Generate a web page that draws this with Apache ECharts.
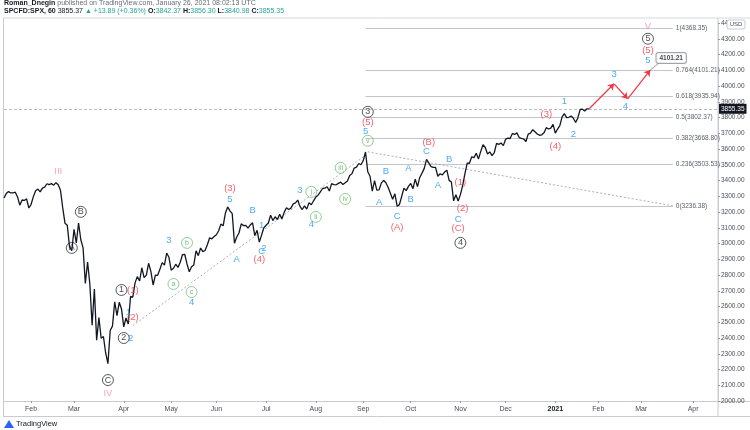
<!DOCTYPE html>
<html><head><meta charset="utf-8">
<script src="https://cdn.jsdelivr.net/npm/echarts@6/dist/echarts.min.js"></script>
<style>html,body{margin:0;padding:0;background:#fff}#c{width:750px;height:430px}</style>
</head><body><div id="c"></div>
<script>
// ---- calendar (trading days) ----
const holidays = ['2020-01-20','2020-02-17','2020-04-10','2020-05-25','2020-07-03','2020-09-07','2020-11-26','2020-12-25','2021-01-01','2021-01-18','2021-02-15','2021-04-02'];
const monthNames = ['Jan','Feb','Mar','Apr','May','Jun','Jul','Aug','Sep','Oct','Nov','Dec'];

// ---- daily closes (SPX, from 2020-01-15) ----
const close2020Jan = [3289.29,3316.81,3329.62,3320.79,3321.75,3325.54,3295.47,3243.63,3276.24,3273.40,3283.66,3225.52];
const close2020Feb = [3248.92,3297.59,3334.69,3345.78,3327.71,3352.09,3357.75,3379.45,3373.94,3380.16,3370.29,3386.15,3373.23,3337.75,3225.89,3128.21,3116.39,2978.76,2954.22];
const close2020Mar = [3090.23,3003.37,3130.12,3023.94,2972.37,2746.56,2882.23,2741.38,2480.64,2711.02,2386.13,2529.19,2398.10,2409.39,2304.92,2237.40,2447.33,2475.56,2630.07,2541.47,2626.65,2584.59];
const close2020Apr = [2470.50,2526.90,2488.65,2663.68,2659.41,2749.98,2789.82,2761.63,2846.06,2783.36,2799.55,2874.56,2823.16,2736.56,2799.31,2797.80,2836.74,2878.48,2863.39,2939.51,2912.43];
const close2020May = [2830.71,2842.74,2868.44,2848.42,2881.19,2929.80,2930.32,2870.12,2820.00,2852.50,2863.70,2953.91,2922.94,2971.61,2948.51,2955.45,2991.77,3036.13,3029.73,3044.31];
const close2020Jun = [3055.73,3080.82,3122.87,3112.35,3193.93,3232.39,3207.18,3190.14,3002.10,3041.31,3066.59,3124.74,3113.49,3115.34,3097.74,3117.86,3131.29,3050.33,3083.76,3009.05,3053.24,3100.29];
const close2020Jul = [3115.86,3130.01,3179.72,3145.32,3169.94,3152.05,3185.04,3155.22,3197.52,3226.56,3215.57,3224.73,3251.84,3257.30,3276.02,3235.66,3215.63,3239.41,3218.44,3258.44,3246.22,3271.12];
const close2020Aug = [3294.61,3306.51,3327.77,3349.16,3351.28,3360.47,3333.69,3380.35,3373.43,3372.85,3381.99,3389.78,3374.85,3385.51,3397.16,3431.28,3443.62,3478.73,3484.55,3508.01,3500.31];
const close2020Sep = [3526.65,3580.84,3455.06,3426.96,3331.84,3398.96,3339.19,3340.97,3383.54,3401.20,3385.49,3357.01,3319.47,3281.06,3315.57,3236.92,3246.59,3298.46,3351.60,3335.47,3363.00];
const close2020Oct = [3380.80,3348.42,3408.60,3360.97,3419.44,3446.83,3477.14,3534.22,3511.93,3488.67,3483.34,3483.81,3426.92,3443.12,3435.56,3453.49,3465.39,3400.97,3390.68,3271.03,3310.11,3269.96];
const close2020Nov = [3310.24,3369.16,3443.44,3510.45,3509.44,3550.50,3545.53,3572.66,3537.01,3585.15,3626.91,3609.53,3567.79,3581.87,3557.54,3577.59,3635.41,3629.65,3638.35,3621.63];
const close2020Dec = [3662.45,3669.01,3666.72,3699.12,3691.96,3702.25,3672.82,3668.10,3663.46,3647.49,3694.62,3701.17,3722.48,3709.41,3694.92,3687.26,3690.01,3703.06,3735.36,3727.04,3732.04,3756.07];
const close2021Jan = [3700.65,3726.86,3748.14,3803.79,3824.68,3799.61,3801.19,3809.84,3795.54,3768.25,3798.91,3851.85,3853.07,3841.47,3855.36,3855.35];

const lastPrice = 3855.35;

// ---- Fibonacci levels ----
const fibRatios = ['1','0.764','0.618','0.5','0.382','0.236','0'];
const fibPrices = [4368.35,4101.21,3935.94,3802.37,3668.80,3503.53,3236.38];
const fibFrom = 160, fibTo = 296; // trading-day index

// ---- trend lines [index, price] ----
const trendLines = [
  [[57,2478],[160,3560]],
  [[161,3582],[296,3239]]
];
// ---- projected path ----
const projection = [[259,3855.35],[270,4014],[276,3919],[286,4101.21]];
const targetPrice = 4101.21;

// ---- wave labels [index, price, text, kind] ----
const waveLabels = [
  [24,3455,'III','p'],[46,2050,'IV','p'],[285,4376,'V','p'],
  [34,3201,'B','k'],[30,2972,'A','k'],[46,2133,'C','k'],[52,2705,'1','k'],[53,2400,'2','k'],
  [161,3836,'3','k'],[202,3004,'4','k'],[285,4300,'5','k'],
  [57,2705,'(1)','r'],[57,2534,'(2)','r'],[100,3347,'(3)','r'],[113,2902,'(4)','r'],[161,3772,'(5)','r'],
  [174,3105,'(A)','r'],[188,3639,'(B)','r'],[202,3391,'(1)','r'],[203,3226,'(2)','r'],[201,3093,'(C)','r'],
  [240,3817,'(3)','r'],[244,3614,'(4)','r'],[285,4224,'(5)','r'],
  [55,2565,'1','b'],[56,2400,'2','b'],[73,3023,'3','b'],[83,2629,'4','b'],[100,3283,'5','b'],
  [103,2902,'A','b'],[110,3213,'B','b'],[114,3112,'1','b'],[114,2947,'C','b'],[115,2966,'2','b'],
  [131,3340,'3','b'],[136,3124,'4','b'],[160,3709,'5','b'],
  [166,3258,'A','b'],[169,3461,'B','b'],[174,3175,'C','b'],[179,3474,'A','b'],[180,3283,'B','b'],
  [187,3588,'C','b'],[192,3366,'A','b'],[197,3531,'B','b'],[201,3156,'C','b'],
  [248,3900,'1','b'],[252,3690,'2','b'],[270,4071,'3','b'],[275,3868,'4','b'],[285,4160,'5','b'],
  [75,2743,'a','g'],[81,3004,'b','g'],[83,2692,'c','g'],[136,3328,'i','g'],[138,3169,'ii','g'],
  [149,3480,'iii','g'],[151,3283,'iv','g'],[161,3652,'v','g']
];

// ---- build ----
const cats = [];
for (let t = Date.UTC(2020,0,15); t <= Date.UTC(2021,3,19); t += 864e5) {
  const d = new Date(t), wd = d.getUTCDay(), s = d.toISOString().slice(0,10);
  if (wd === 0 || wd === 6 || holidays.includes(s)) continue;
  cats.push(s);
}
const closes = [].concat(close2020Jan,close2020Feb,close2020Mar,close2020Apr,close2020May,close2020Jun,
  close2020Jul,close2020Aug,close2020Sep,close2020Oct,close2020Nov,close2020Dec,close2021Jan);

const isMonthStart = (i) => i > 0 && cats[i].slice(5,7) !== cats[i-1].slice(5,7);

const FONT = 'Liberation Sans';
const markLines = [];
fibPrices.forEach((p,i) => {
  markLines.push([
    {coord:[fibFrom,p], lineStyle:{color:'#c3c5cc',width:1,type:'solid'},
     label:{show:true,position:'end',distance:3,formatter:fibRatios[i]+'('+p.toFixed(2)+')',color:'#5d606b',fontSize:6.5,fontFamily:FONT}},
    {coord:[fibTo,p]}
  ]);
});
trendLines.forEach(l => {
  markLines.push([
    {coord:l[0], lineStyle:{color:'#9a9a9a',width:0.8,type:[2,2]}, label:{show:false}},
    {coord:l[1]}
  ]);
});
markLines.push({yAxis:lastPrice, lineStyle:{color:'#b9bbc2',width:1,type:[3,2]},
  label:{show:true,position:'end',distance:1,formatter:lastPrice.toFixed(2),backgroundColor:'#131722',color:'#fff',padding:[2,2,1,2],fontSize:6.5,fontFamily:FONT}});

const rich = {
  k:{color:'#131722',borderColor:'#131722',borderWidth:0.9,borderRadius:6,width:11,height:11,lineHeight:11,align:'center',fontSize:9,fontFamily:FONT},
  g:{color:'#4caf50',borderColor:'#66bb6a',borderWidth:0.9,borderRadius:6,width:11,height:11,lineHeight:11,align:'center',fontSize:7,fontFamily:FONT},
  r:{color:'#f23645',fontSize:9.5,fontFamily:FONT},
  b:{color:'#2196f3',fontSize:9.5,fontFamily:FONT},
  p:{color:'#f48fb1',fontSize:9.5,fontFamily:FONT}
};

const arrowSegs = [];
for (let i = 1; i < projection.length; i++) arrowSegs.push({coords:[projection[i-1],projection[i]]});

const chart = echarts.init(document.getElementById('c'), null, {renderer:'canvas'});
chart.setOption({
  animation:false,
  grid:{left:4,right:32,top:23,bottom:29,containLabel:false},
  xAxis:{type:'category',data:cats,boundaryGap:false,
    axisLine:{lineStyle:{color:'#c9cbd1'}},
    axisTick:{interval:isMonthStart,length:2,lineStyle:{color:'#9598a1'}},
    axisLabel:{interval:isMonthStart,margin:5,fontSize:7,color:'#4a4d57',fontFamily:FONT,
      formatter:(v)=>{const m=+v.slice(5,7)-1; return m===0?'{y|'+v.slice(0,4)+'}':monthNames[m];},
      rich:{y:{fontWeight:'bold',fontSize:7,color:'#131722',fontFamily:FONT}}},
    splitLine:{show:false}},
  yAxis:{type:'value',position:'right',min:2000,max:4400,interval:100,scale:true,
    axisLine:{show:true,lineStyle:{color:'#c9cbd1'}},
    axisTick:{show:true,length:2,lineStyle:{color:'#9598a1'}},
    axisLabel:{formatter:(v)=>v.toFixed(2),fontSize:6.5,color:'#4a4d57',margin:3,fontFamily:FONT},
    splitLine:{show:false}},
  series:[
    {type:'line',data:closes,showSymbol:false,z:5,
     lineStyle:{color:'#131722',width:1.3},
     markLine:{silent:true,symbol:['none','none'],data:markLines,z:1}},
    {type:'lines',coordinateSystem:'cartesian2d',z:6,data:arrowSegs,
     symbol:['none','arrow'],symbolSize:6,
     lineStyle:{color:'#f23645',width:1.2,opacity:1}},
    {type:'lines',coordinateSystem:'cartesian2d',z:6,data:[{coords:[[286,targetPrice],[290,4147]]}],
     lineStyle:{color:'#9598a1',width:1,opacity:1}},
    {type:'scatter',z:7,symbolSize:1,itemStyle:{color:'rgba(0,0,0,0)'},
     data:[{value:[286,targetPrice]}],
     label:{show:true,position:'inside',offset:[21,-12],formatter:targetPrice.toFixed(2),
       backgroundColor:'#fff',borderColor:'#8a8d96',borderWidth:1,borderRadius:2,padding:[2,3,1,3],
       color:'#131722',fontWeight:'bold',fontSize:6.5,fontFamily:FONT}},
    {type:'scatter',z:8,symbolSize:1,itemStyle:{color:'rgba(0,0,0,0)'},
     data:waveLabels.map(w=>({value:[w[0],w[1]],txt:w[2],kind:w[3]})),
     label:{show:true,position:'inside',rich:rich,
       formatter:(p)=>'{'+p.data.kind+'|'+p.data.txt+'}'}}
  ],
  graphic:[
    {type:'line',shape:{x1:3,y1:18,x2:750,y2:18},style:{stroke:'#d6d8dd',lineWidth:1},silent:true},
    {type:'line',shape:{x1:3.5,y1:18,x2:3.5,y2:416},style:{stroke:'#c9cbd1',lineWidth:1},silent:true},
    {type:'line',shape:{x1:718,y1:18,x2:718,y2:416},style:{stroke:'#c9cbd1',lineWidth:1},silent:true},
    {type:'line',shape:{x1:718,y1:401.5,x2:750,y2:401.5},style:{stroke:'#c9cbd1',lineWidth:1},silent:true},
    {type:'line',shape:{x1:3,y1:416.5,x2:750,y2:416.5},style:{stroke:'#c9cbd1',lineWidth:1},silent:true},
    {type:'rect',shape:{x:727,y:20,width:18,height:9,r:2},style:{fill:'#fff',stroke:'#c9cbd1',lineWidth:1},z:100},
    {type:'text',x:736,y:24.5,z:101,style:{text:'USD',fontSize:6,fill:'#4a4d57',align:'center',verticalAlign:'middle',fontFamily:FONT}},
    {type:'text',x:4,y:0,z:101,style:{text:'{n|Roman_Dnegin} published on TradingView.com, January 26, 2021 08:02:13 UTC',
      fontSize:7,fill:'#6a6d78',fontFamily:FONT,rich:{n:{fontWeight:'bold',fill:'#131722',fontSize:7,fontFamily:FONT}}}},
    {type:'text',x:4,y:8,z:101,style:{text:'{n|SPCFD:SPX, 60} 3855.37 {g|▲ +13.89 (+0.36%)} {n|O:}{g|3842.37} {n|H:}{g|3856.30} {n|L:}{g|3840.98} {n|C:}{g|3855.35}',
      fontSize:7,fill:'#131722',fontFamily:FONT,
      rich:{n:{fontWeight:'bold',fill:'#131722',fontSize:7,fontFamily:FONT},g:{fill:'#26a69a',fontSize:7,fontFamily:FONT}}}},
    {type:'polygon',shape:{points:[[4,428],[9,420],[14,428]]},style:{fill:'#2962ff'},z:101},
    {type:'text',x:16,y:420,z:101,style:{text:'TradingView',fontSize:7.5,fill:'#131722',fontFamily:FONT}}
  ]
});
</script>
</body></html>
